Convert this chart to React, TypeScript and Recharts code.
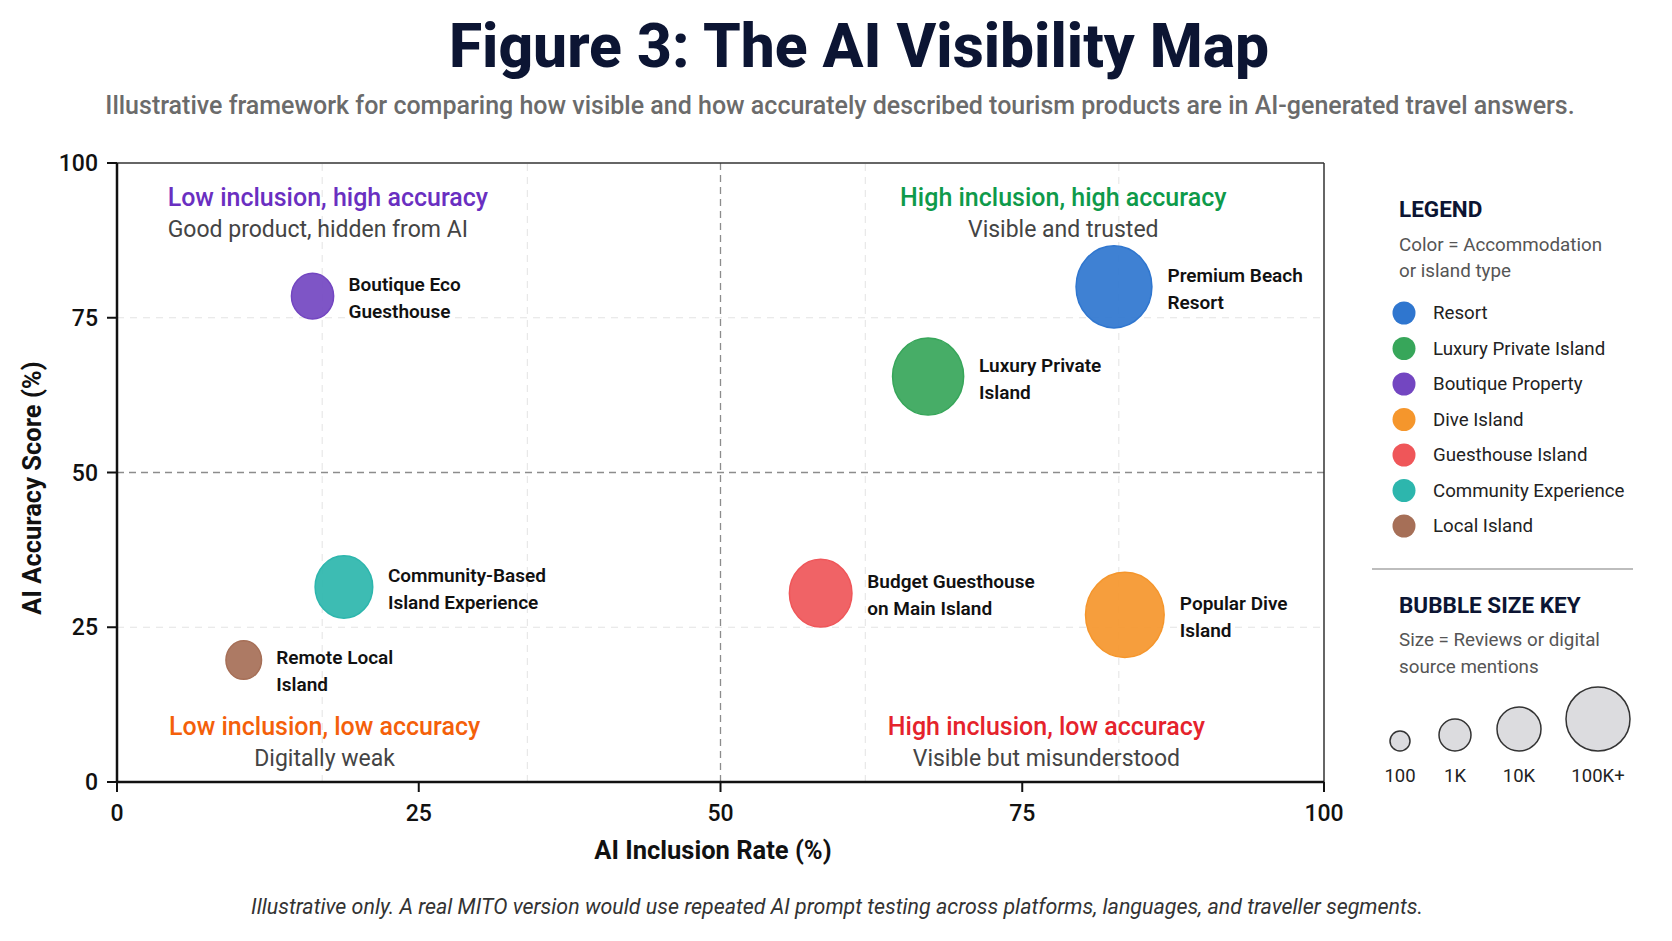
import React from "react";
import { ScatterChart, Scatter, XAxis, YAxis, ZAxis, ReferenceLine } from "recharts";

const FONT = "Roboto, 'Noto Sans', 'DejaVu Sans', sans-serif";
const NAVY = "#0c1533";

// bubbles
const bubbleLabels = [
  ["Premium Beach", "Resort"],
  ["Luxury Private", "Island"],
  ["Boutique Eco", "Guesthouse"],
  ["Community-Based", "Island Experience"],
  ["Remote Local", "Island"],
  ["Budget Guesthouse", "on Main Island"],
  ["Popular Dive", "Island"],
];
const bubbleTypes = [
  "Resort",
  "Luxury Private Island",
  "Boutique Property",
  "Community Experience",
  "Local Island",
  "Guesthouse Island",
  "Dive Island",
];
const inclusionRate = [82.6, 67.2, 16.2, 18.8, 10.5, 58.3, 83.5];
const accuracyScore = [80, 65.5, 78.5, 31.5, 19.7, 30.5, 27];
const mentions = [89000, 76000, 15500, 44000, 6000, 55000, 97000];

// legend
const legendTypes = [
  "Resort",
  "Luxury Private Island",
  "Boutique Property",
  "Dive Island",
  "Guesthouse Island",
  "Community Experience",
  "Local Island",
];
const legendColors = ["#2f76cf", "#37a65a", "#7346c1", "#f5962c", "#ef5659", "#2db6ad", "#a66f57"];

const sizeKeyLabels = ["100", "1K", "10K", "100K+"];

// axes and guides
const axisTicks = [0, 25, 50, 75, 100];
const midLine = 50;
const faintGridX = [17, 34, 62, 83];
const faintGridY = [25, 75];

// quadrant annotations
const quadrantTitles = [
  "Low inclusion, high accuracy",
  "High inclusion, high accuracy",
  "Low inclusion, low accuracy",
  "High inclusion, low accuracy",
];
const quadrantNotes = [
  "Good product, hidden from AI",
  "Visible and trusted",
  "Digitally weak",
  "Visible but misunderstood",
];
const quadrantX = [4.2, 78.4, 17.2, 77];
const quadrantY = [94.5, 94.5, 9, 9];
const quadrantColors = ["#6a2fc1", "#0e9a4a", "#f4600a", "#e5232c"];

// small vertical nudges for label blocks (px)
const labelNudge: Record<string, number> = { "Remote Local": 9 };

const colorOf = (t: string) => legendColors[legendTypes.indexOf(t)];

const bubbles = bubbleTypes.map((t, i) => ({
  x: inclusionRate[i],
  y: accuracyScore[i],
  mentions: mentions[i],
  lines: bubbleLabels[i],
  color: colorOf(t),
}));

const quadrants = quadrantTitles.map((title, i) => ({
  x: quadrantX[i],
  y: quadrantY[i],
  title,
  note: quadrantNotes[i],
  color: quadrantColors[i],
  anchor: i === 0 ? "start" : "middle",
}));

function Bubble(props: any) {
  const { cx, cy, width, payload } = props;
  const r = width / 2;
  const n = payload.lines.length;
  const dy = 2 + (labelNudge[payload.lines[0]] || 0);
  return (
    <g>
      <ellipse
        cx={cx}
        cy={cy}
        rx={r * 0.96}
        ry={r * 1.04}
        fill={payload.color}
        fillOpacity={0.92}
        stroke={payload.color}
        strokeWidth={1.5}
      />
      {payload.lines.map((line: string, i: number) => (
        <text
          key={i}
          x={cx + r + 14}
          y={cy + dy + (i - (n - 1) / 2) * 27}
          dominantBaseline="central"
          fontFamily={FONT}
          fontSize={19}
          fontWeight={600}
          fill="#111"
        >
          {line}
        </text>
      ))}
    </g>
  );
}

function QuadrantLabel(props: any) {
  const { cx, cy, payload } = props;
  return (
    <g>
      <text
        x={cx}
        y={cy}
        textAnchor={payload.anchor}
        dominantBaseline="central"
        fontFamily={FONT}
        fontSize={25}
        fontWeight={500}
        fill={payload.color}
      >
        {payload.title}
      </text>
      <text
        x={cx}
        y={cy + 32}
        textAnchor={payload.anchor}
        dominantBaseline="central"
        fontFamily={FONT}
        fontSize={23}
        fill="#444"
      >
        {payload.note}
      </text>
    </g>
  );
}

const tickStyle = { fontSize: 23, fill: "#111", fontWeight: 500, fontFamily: FONT };

export default function App() {
  const keyX = [1400, 1455, 1519, 1598];
  const keyR = [10, 16, 22, 32];
  return (
    <div
      style={{
        position: "absolute",
        left: 0,
        top: 0,
        width: 1672,
        height: 941,
        background: "#fff",
        overflow: "hidden",
        fontFamily: FONT,
      }}
    >
      <div style={{ position: "absolute", left: 0, top: 0 }}>
        <ScatterChart width={1672} height={941} margin={{ top: 163, right: 348, bottom: 99, left: 57 }}>
          {faintGridY.map((v) => (
            <ReferenceLine key={"gy" + v} y={v} stroke="#e4e4e4" strokeWidth={1.2} strokeDasharray="7 6" />
          ))}
          {faintGridX.map((v) => (
            <ReferenceLine key={"gx" + v} x={v} stroke="#e8e8e8" strokeWidth={1.2} strokeDasharray="7 6" />
          ))}
          <ReferenceLine x={midLine} stroke="#8c8c8c" strokeWidth={1.3} strokeDasharray="7 5" />
          <ReferenceLine y={midLine} stroke="#8c8c8c" strokeWidth={1.3} strokeDasharray="7 5" />
          <ReferenceLine y={100} stroke="#333" strokeWidth={1.5} />
          <ReferenceLine x={100} stroke="#333" strokeWidth={1.5} />
          <XAxis
            type="number"
            dataKey="x"
            domain={[0, 100]}
            ticks={axisTicks}
            height={60}
            axisLine={{ stroke: "#111", strokeWidth: 2.5 }}
            tickLine={{ stroke: "#111", strokeWidth: 2 }}
            tickSize={10}
            tickMargin={13}
            tick={tickStyle}
          />
          <YAxis
            type="number"
            dataKey="y"
            domain={[0, 100]}
            ticks={axisTicks}
            width={60}
            axisLine={{ stroke: "#111", strokeWidth: 2.5 }}
            tickLine={{ stroke: "#111", strokeWidth: 2 }}
            tickSize={10}
            tickMargin={9}
            tick={tickStyle}
          />
          <ZAxis type="number" dataKey="mentions" domain={[0, 100000]} range={[804, 5411]} />
          <Scatter data={quadrants} shape={QuadrantLabel} isAnimationActive={false} />
          <Scatter data={bubbles} shape={Bubble} isAnimationActive={false} />
        </ScatterChart>
      </div>

      <svg width={1672} height={941} style={{ position: "absolute", left: 0, top: 0, pointerEvents: "none" }}>
        <text x={859} y={67} textAnchor="middle" fontFamily={FONT} fontSize={60.5} fontWeight={800} fill={NAVY}>
          Figure 3: The AI Visibility Map
        </text>
        <text
          x={840}
          y={105}
          textAnchor="middle"
          dominantBaseline="central"
          fontFamily={FONT}
          fontSize={25}
          fontWeight={500}
          fill="#6b6b6b"
        >
          Illustrative framework for comparing how visible and how accurately described tourism products are in
          AI-generated travel answers.
        </text>
        <text
          transform="translate(32,488) rotate(-90)"
          textAnchor="middle"
          dominantBaseline="central"
          fontFamily={FONT}
          fontSize={25.5}
          fontWeight={700}
          fill="#111"
        >
          AI Accuracy Score (%)
        </text>
        <text
          x={713}
          y={850}
          textAnchor="middle"
          dominantBaseline="central"
          fontFamily={FONT}
          fontSize={25.5}
          fontWeight={700}
          fill="#111"
        >
          AI Inclusion Rate (%)
        </text>
        <text
          x={837}
          y={906}
          textAnchor="middle"
          dominantBaseline="central"
          fontFamily={FONT}
          fontSize={21.4}
          fontStyle="italic"
          fill="#333"
        >
          Illustrative only. A real MITO version would use repeated AI prompt testing across platforms, languages, and
          traveller segments.
        </text>

        {/* legend */}
        <text x={1399} y={209} dominantBaseline="central" fontFamily={FONT} fontSize={22.5} fontWeight={700} fill={NAVY}>
          LEGEND
        </text>
        <text x={1399} y={245} dominantBaseline="central" fontFamily={FONT} fontSize={18.8} fill="#555">
          Color = Accommodation
        </text>
        <text x={1399} y={271} dominantBaseline="central" fontFamily={FONT} fontSize={18.8} fill="#555">
          or island type
        </text>
        {legendTypes.map((t, i) => (
          <g key={t}>
            <circle cx={1404} cy={313 + i * 35.5} r={11.5} fill={legendColors[i]} />
            <text
              x={1433}
              y={313 + i * 35.5}
              dominantBaseline="central"
              fontFamily={FONT}
              fontSize={18.7}
              fill="#222"
            >
              {t}
            </text>
          </g>
        ))}
        <line x1={1372} x2={1633} y1={569} y2={569} stroke="#bdbdbd" strokeWidth={2} />
        <text x={1399} y={605} dominantBaseline="central" fontFamily={FONT} fontSize={22.5} fontWeight={700} fill={NAVY}>
          BUBBLE SIZE KEY
        </text>
        <text x={1399} y={640} dominantBaseline="central" fontFamily={FONT} fontSize={18.8} fill="#555">
          Size = Reviews or digital
        </text>
        <text x={1399} y={667} dominantBaseline="central" fontFamily={FONT} fontSize={18.8} fill="#555">
          source mentions
        </text>
        {sizeKeyLabels.map((l, i) => (
          <g key={l}>
            <circle cx={keyX[i]} cy={751 - keyR[i]} r={keyR[i]} fill="#dcdcdf" stroke="#333" strokeWidth={1.5} />
            <text
              x={keyX[i]}
              y={776}
              textAnchor="middle"
              dominantBaseline="central"
              fontFamily={FONT}
              fontSize={18.5}
              fill="#222"
            >
              {l}
            </text>
          </g>
        ))}
      </svg>
    </div>
  );
}
